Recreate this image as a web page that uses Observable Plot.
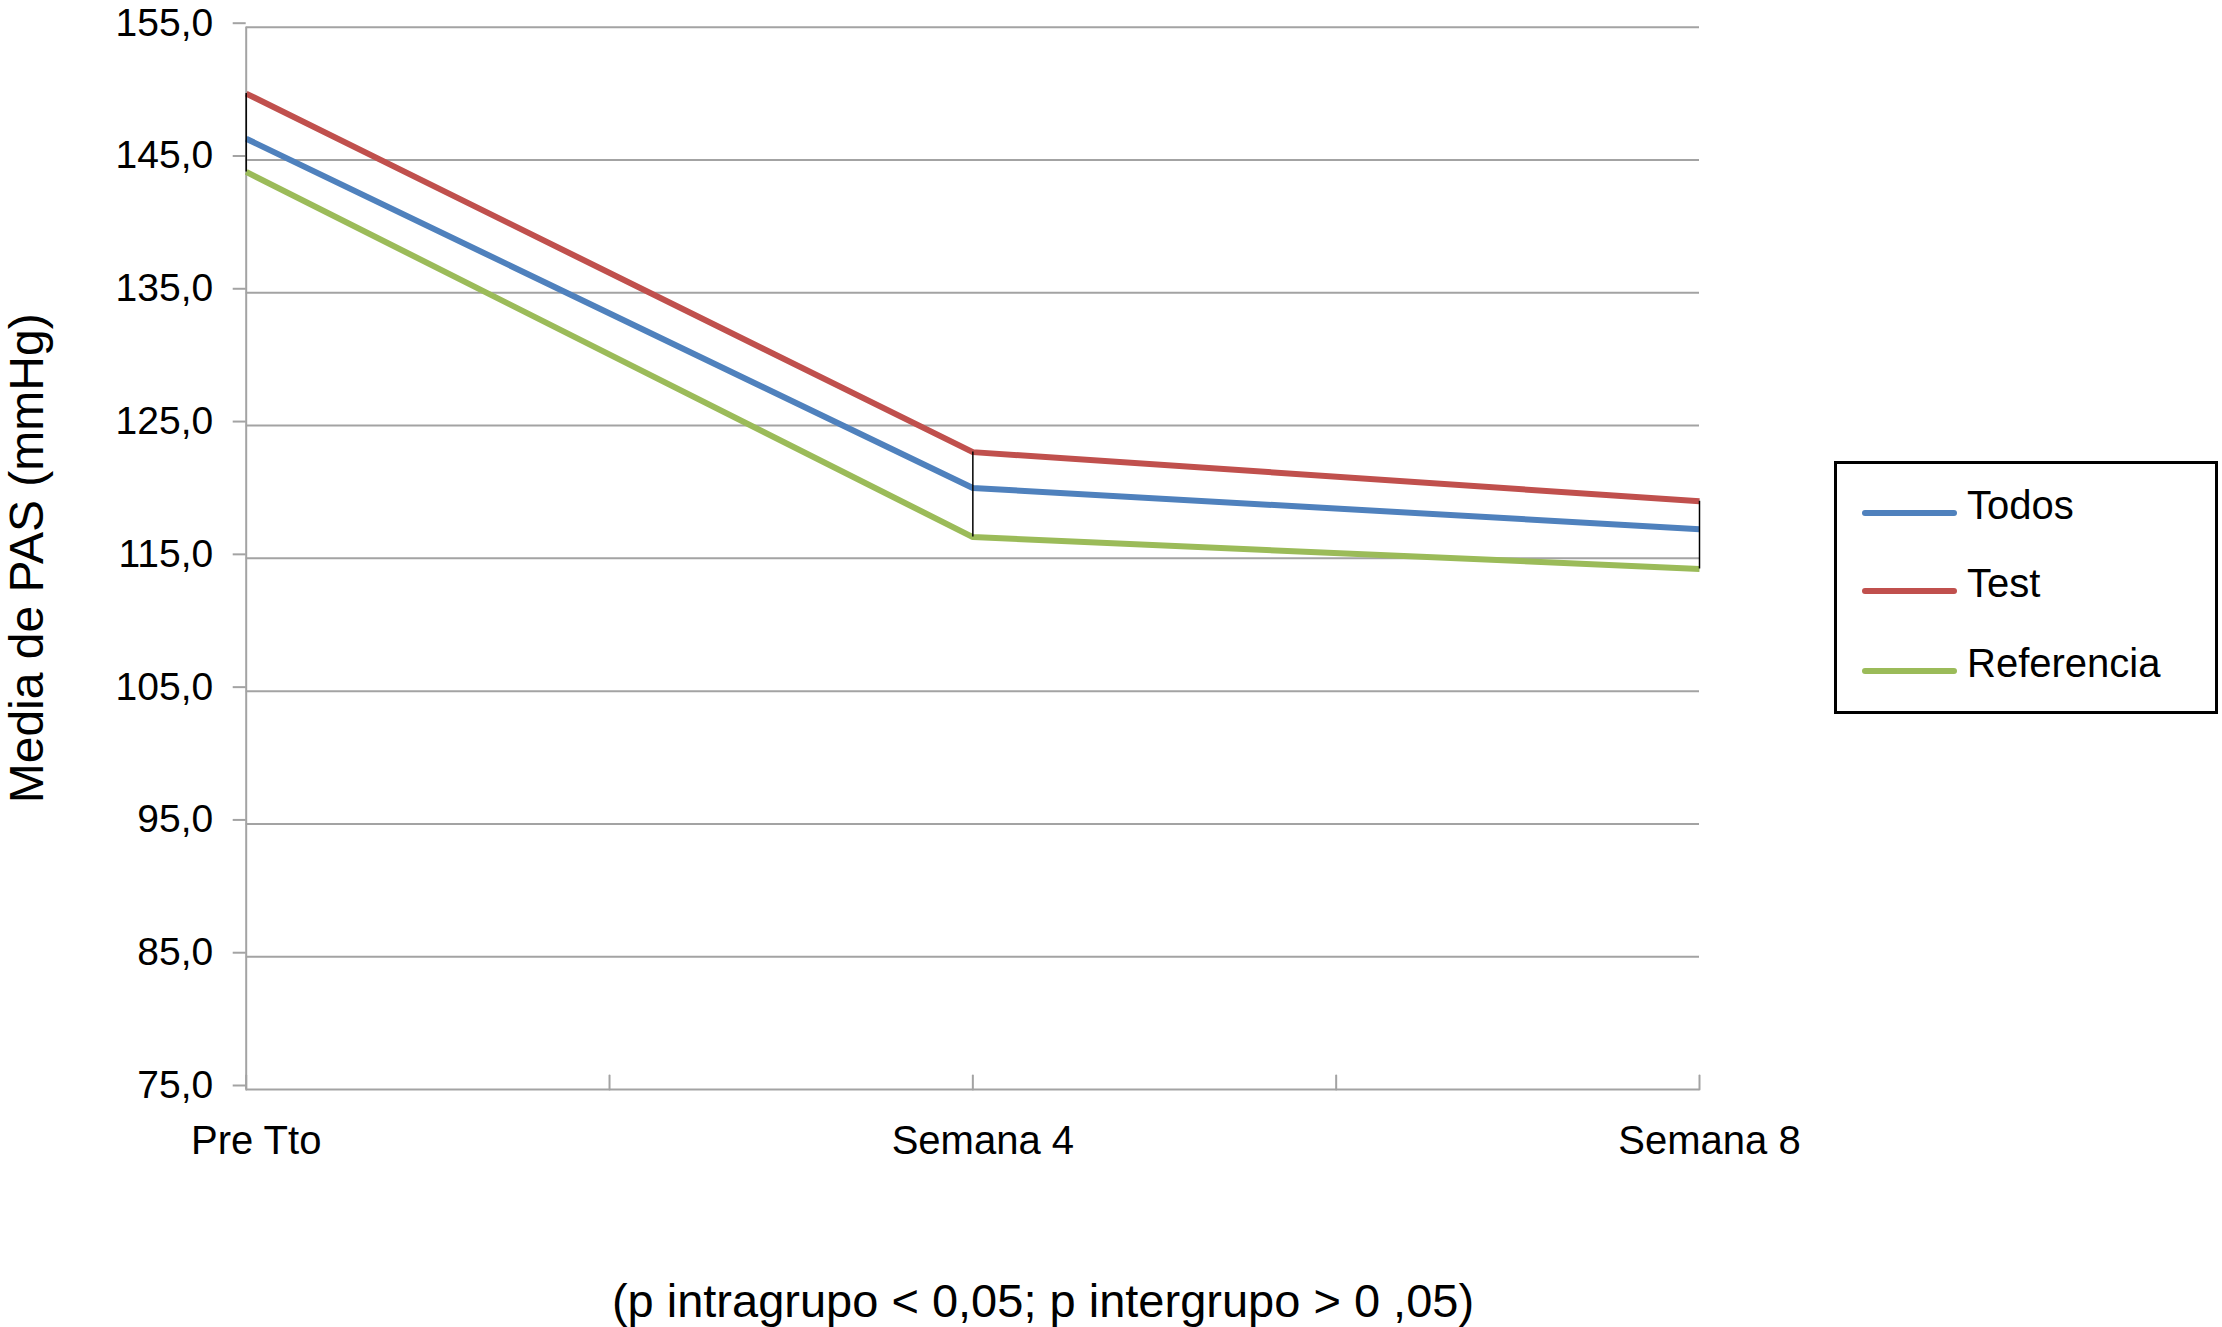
<!DOCTYPE html>
<html>
<head>
<meta charset="utf-8">
<script src="https://cdn.jsdelivr.net/npm/d3@7"></script>
<script src="https://cdn.jsdelivr.net/npm/@observablehq/plot@0.6"></script>
<style>
  html, body { margin: 0; padding: 0; background: #fff; }
  #wrap { position: relative; width: 2222px; height: 1327px; overflow: hidden;
          font-family: "Liberation Sans", Arial, Helvetica, sans-serif; color: #000; }
  #chart { position: absolute; left: 0; top: 0; }
  #legend { position: absolute; left: 1834px; top: 461px; width: 378px; height: 247px;
            border: 3px solid #000; background: #fff; }
  .item { position: absolute; left: 0; height: 40px; width: 370px; }
  .sw { position: absolute; left: 25px; width: 95px; height: 6px; border-radius: 3px; }
  .lab { position: absolute; left: 130px; top: 0; font-size: 40px; line-height: 40px; white-space: nowrap; }
  #caption { position: absolute; left: 0; width: 2086px; top: 1277px; text-align: center;
             font-size: 47px; line-height: 1; white-space: nowrap; }
</style>
</head>
<body>
<div id="wrap">
  <div id="chart"></div>
  <div id="legend"></div>
  <div id="caption"></div>
</div>
<script>
// ---- data ----
const categories = ["Pre Tto", "Semana 4", "Semana 8"];
const seriesNames = ["Todos", "Test", "Referencia"];
const todos = [146.6, 120.3, 117.2];
const test = [150.0, 123.0, 119.3];
const referencia = [144.1, 116.6, 114.2];
const seriesColors = ["#4F81BD", "#C0504D", "#9BBB59"];
const yTicks = [75, 85, 95, 105, 115, 125, 135, 145, 155];
const yLabel = "Media de PAS (mmHg)";
const captionText = "(p intragrupo < 0,05; p intergrupo > 0 ,05)";

const seriesValues = [todos, test, referencia];
const rows = [];
seriesNames.forEach((name, s) => {
  categories.forEach((c, i) => rows.push({series: name, i, value: seriesValues[s][i]}));
});
const ranges = categories.map((c, i) => ({
  i,
  lo: d3.min(seriesValues, v => v[i]),
  hi: d3.max(seriesValues, v => v[i])
}));
// category positions plus the midpoints between them (axis tick marks)
const tickPos = [];
categories.forEach((c, i) => { tickPos.push(i); if (i < categories.length - 1) tickPos.push(i + 0.5); });

const fmt = d => d.toFixed(1).replace(".", ",");
const gray = "#a3a3a3";
const tickUp = { draw(context, l) { context.moveTo(0, 0); context.lineTo(0, -l); } };

const chart = Plot.plot({
  width: 2222,
  height: 1327,
  marginLeft: 245.7,
  marginRight: 523,
  marginTop: 26.7,
  marginBottom: 238,
  style: { fontFamily: "'Liberation Sans', Arial, Helvetica, sans-serif", background: "transparent", color: "#000" },
  x: { type: "linear", domain: [0, categories.length - 1] },
  y: { domain: [yTicks[0], yTicks[yTicks.length - 1]] },
  color: { domain: seriesNames, range: seriesColors },
  marks: [
    Plot.gridY(yTicks, { stroke: gray, strokeOpacity: 1, strokeWidth: 2 }),
    Plot.axisY(yTicks, { tickSize: 13, tickPadding: 20, tickFormat: fmt, fontSize: 39, stroke: gray, strokeWidth: 2, fill: "#000", dy: -4, label: null }),
    Plot.ruleX(categories.slice(0, 1), { x: (d, i) => i, stroke: gray, strokeWidth: 2 }),
    Plot.axisX(categories.map((c, i) => i), { tickSize: 0, tickPadding: 36, tickFormat: i => categories[i], fontSize: 40, dx: 10, fill: "#000", label: null }),
    Plot.vector(tickPos, { x: d => d, y: () => yTicks[0], length: 14, anchor: "start", shape: tickUp, stroke: gray, strokeWidth: 2 }),
    Plot.line(rows, { x: "i", y: "value", z: "series", stroke: "series", strokeWidth: 6, strokeLinecap: "butt", strokeLinejoin: "round" }),
    Plot.ruleX(ranges, { x: "i", y1: "lo", y2: "hi", stroke: "#000", strokeWidth: 1.5 }),
    Plot.text([yLabel], { text: d => d, frameAnchor: "left", rotate: -90, textAnchor: "middle", lineAnchor: "bottom", dx: -203, fontSize: 48, fill: "#000" })
  ]
});
document.getElementById("chart").appendChild(chart);

// legend
const legend = document.getElementById("legend");
const rowCenters = [45, 123, 203];
seriesNames.forEach((name, k) => {
  const item = document.createElement("div");
  item.className = "item";
  item.style.top = (rowCenters[k] - 20) + "px";
  const sw = document.createElement("div");
  sw.className = "sw";
  sw.style.background = seriesColors[k];
  sw.style.top = "21px";
  const lab = document.createElement("div");
  lab.className = "lab";
  lab.style.top = "-4px";
  lab.textContent = name;
  item.appendChild(sw);
  item.appendChild(lab);
  legend.appendChild(item);
});
document.getElementById("caption").textContent = captionText;
</script>
</body>
</html>
